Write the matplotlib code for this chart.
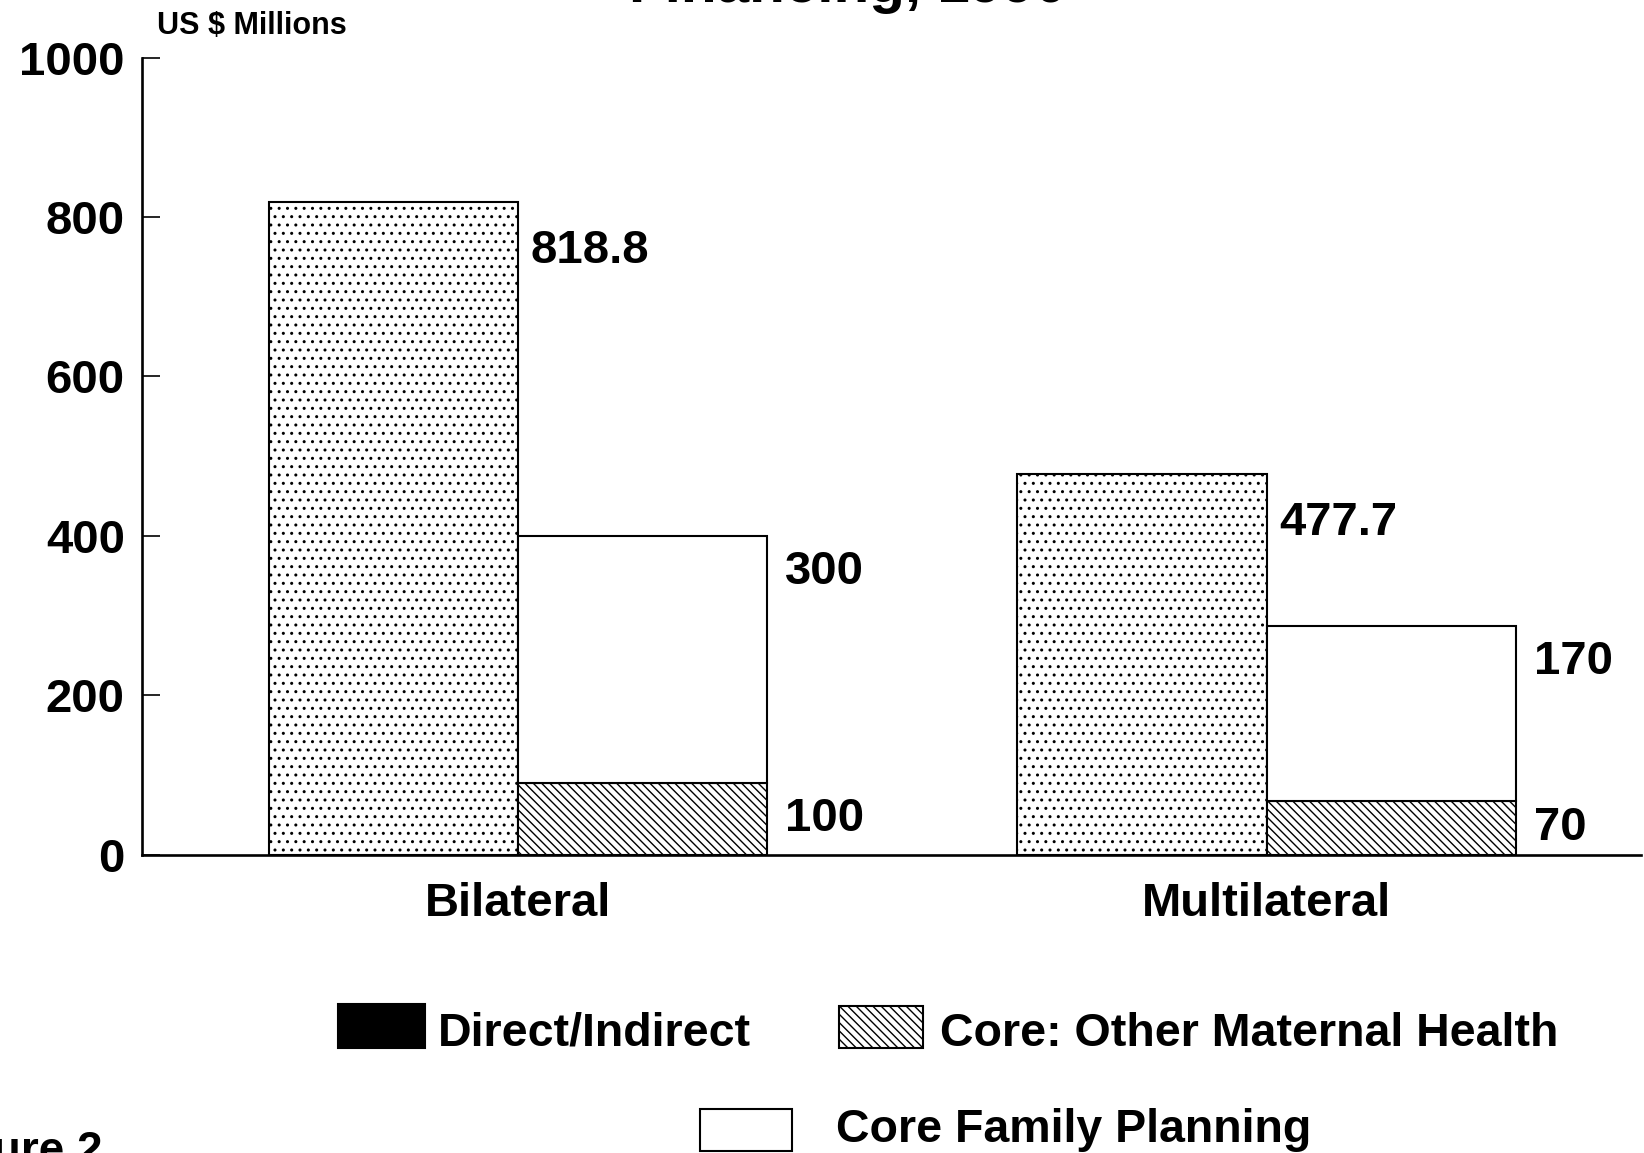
import matplotlib
matplotlib.use('Agg')
import matplotlib.pyplot as plt
from matplotlib.patches import Rectangle

# --- data ---
categories = ["Bilateral", "Multilateral"]
direct_indirect = [818.8, 477.7]      # left bar of each group
other_maternal = [90, 67]             # hatched base of right bar
family_planning = [310, 220]          # white segment on top of it
direct_labels = ["818.8", "477.7"]
fp_labels = ["300", "170"]
maternal_labels = ["100", "70"]
yticks = [0, 200, 400, 600, 800, 1000]

FONT = "Liberation Sans"
plt.rcParams['font.family'] = [FONT, 'DejaVu Sans']
plt.rcParams['font.weight'] = 'bold'
plt.rcParams['hatch.linewidth'] = 1.0

W, H = 1644, 1153
fig = plt.figure(figsize=(W / 100, H / 100), dpi=100)
ax = fig.add_axes([141.5 / W, (H - 854.5) / H, (1641 - 141.5) / W, (854.5 - 57.7) / H])

bw = 0.333
x = list(range(len(categories)))
x_left = [i - bw / 2 for i in x]
x_right = [i + bw / 2 for i in x]

# direct/indirect bars (screened black in the scan)
ax.bar(x_left, direct_indirect, width=bw, facecolor='white', edgecolor='black',
       hatch='..', linewidth=1.5)
ax.bar(x_right, other_maternal, width=bw, facecolor='white', edgecolor='black',
       hatch='\\\\\\\\', linewidth=1.5)
ax.bar(x_right, family_planning, bottom=other_maternal, width=bw, facecolor='white',
       edgecolor='black', linewidth=1.5)

# value labels
for i in x:
    fp_top = other_maternal[i] + family_planning[i]
    ax.annotate(direct_labels[i], (x_left[i] + bw / 2, direct_indirect[i] - 62),
                xytext=(9, 0), textcoords='offset points', va='center', ha='left',
                fontsize=34, fontweight='bold')
    ax.annotate(fp_labels[i], (x_right[i] + bw / 2, fp_top - 45),
                xytext=(13, 0), textcoords='offset points', va='center', ha='left',
                fontsize=34, fontweight='bold')
    ax.annotate(maternal_labels[i], (x_right[i] + bw / 2, other_maternal[i] / 2),
                xytext=(13, 0), textcoords='offset points', va='center', ha='left',
                fontsize=34, fontweight='bold')

ax.set_xlim(-0.503, 1.5)
ax.set_ylim(0, 1000)
ax.set_yticks(yticks)
ax.set_yticklabels([str(t) for t in yticks], fontsize=34, fontweight='bold')
ax.set_xticks(x)
ax.set_xticklabels(categories, fontsize=34, fontweight='bold')
ax.tick_params(axis='y', direction='in', length=13, width=1.2, pad=12)
ax.tick_params(axis='x', length=0, pad=20)
for s in ['top', 'right']:
    ax.spines[s].set_visible(False)
for s in ['left', 'bottom']:
    ax.spines[s].set_linewidth(1.9)

# header texts (cut off by the page edges in the scan)
fig.text(157 / W, 1 - 26 / H, "US $ Millions", fontsize=22, fontweight='bold',
         va='center', ha='left')
fig.text(848 / W, 1 - 2 / H, "Financing, 1990", fontsize=42, fontweight='bold',
         va='baseline', ha='center')
fig.text(-76 / W, 1 - 1130 / H, "Figure 2", fontsize=33, fontweight='bold',
         va='top', ha='left')

# legend drawn by hand: two items on first row, one on second
def legend_box(x0, y0, x1, y1, **kw):
    fig.add_artist(Rectangle((x0 / W, 1 - y1 / H), (x1 - x0) / W, (y1 - y0) / H,
                             transform=fig.transFigure, edgecolor='black',
                             linewidth=1.5, **kw))

legend_box(338, 1004, 425, 1048, facecolor='black')
legend_box(839, 1006, 923, 1048, facecolor='white', hatch='\\\\\\\\')
legend_box(700, 1109, 792, 1151, facecolor='white')
fig.text(438 / W, 1 - 1034 / H, "Direct/Indirect", fontsize=33.5, fontweight='bold',
         va='center', ha='left')
fig.text(940 / W, 1 - 1034 / H, "Core: Other Maternal Health", fontsize=33.5,
         fontweight='bold', va='center', ha='left')
fig.text(836 / W, 1 - 1130 / H, "Core Family Planning", fontsize=33.5,
         fontweight='bold', va='center', ha='left')

fig.savefig("out.png", dpi=100)
